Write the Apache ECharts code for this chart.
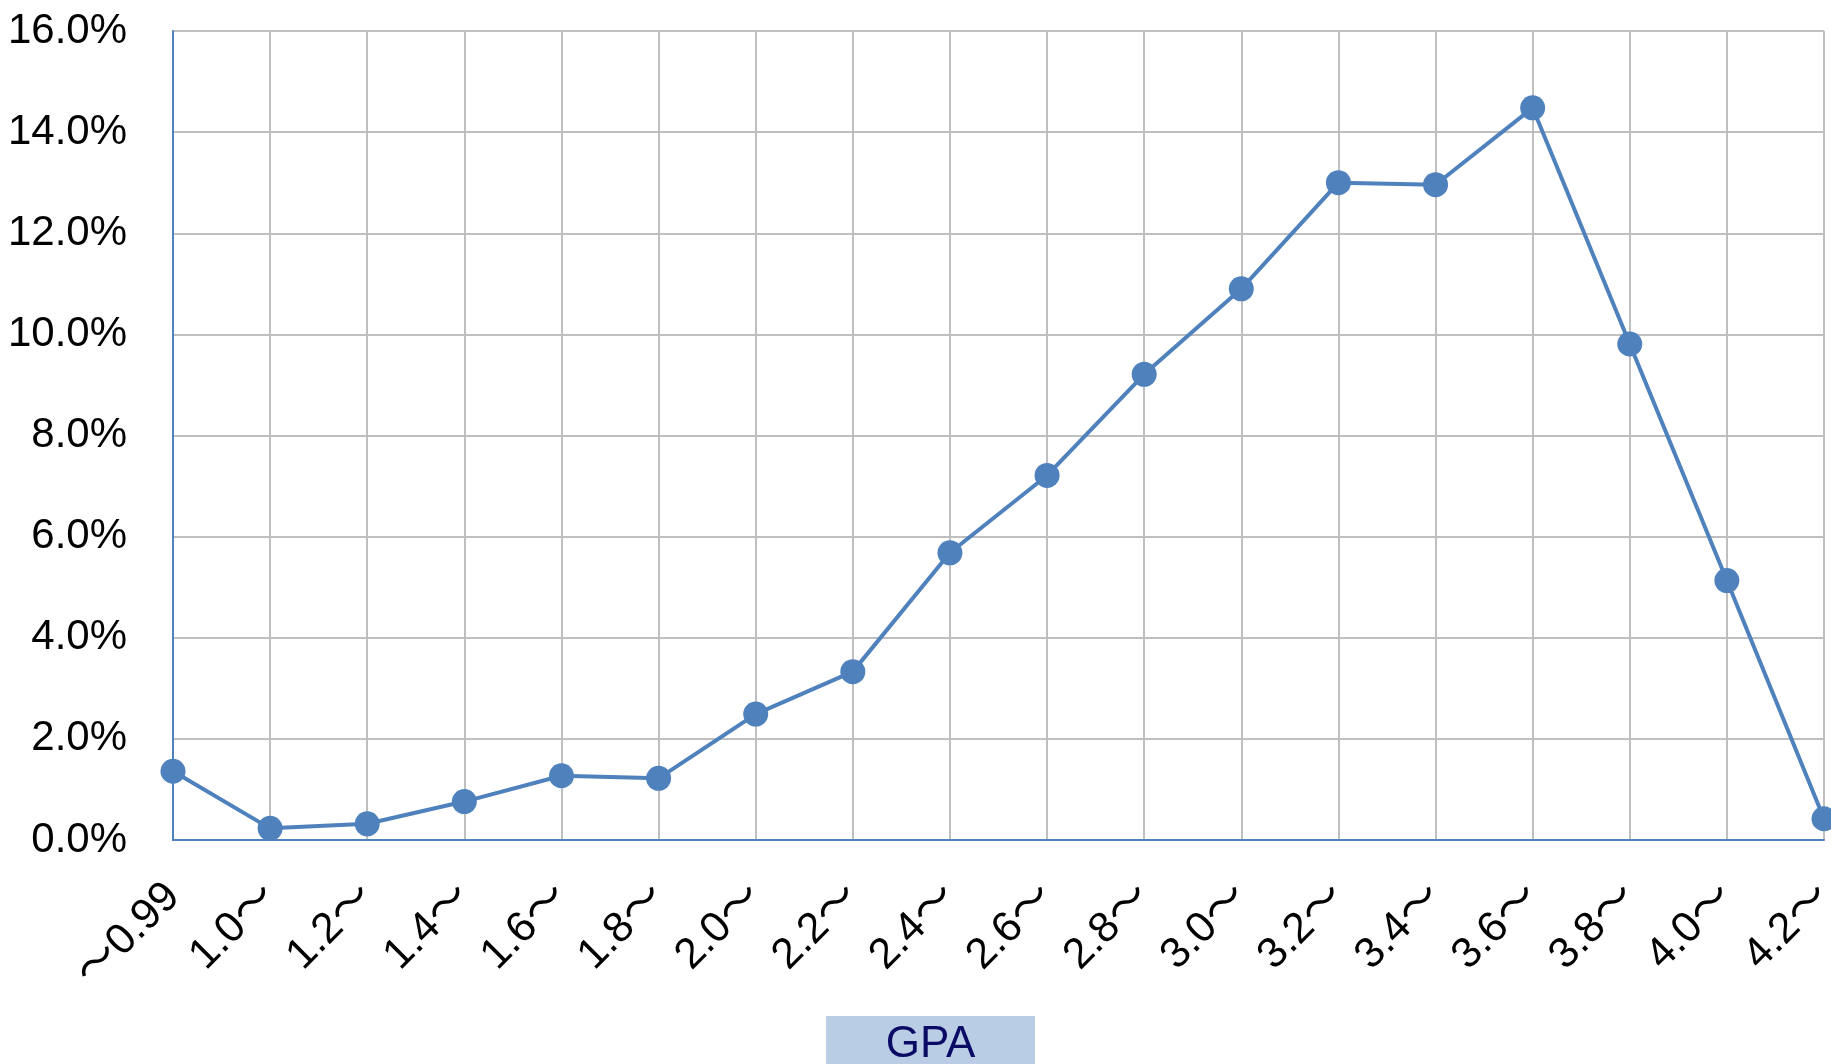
<!DOCTYPE html>
<html>
<head>
<meta charset="utf-8">
<script src="https://cdn.jsdelivr.net/npm/echarts@6/dist/echarts.min.js"></script>
<style>html,body{margin:0;padding:0;background:#fff}#c{width:1831px;height:1064px}</style>
</head>
<body>
<div id="c"></div>
<script>
var categories = ['〜0.99','1.0〜','1.2〜','1.4〜','1.6〜','1.8〜','2.0〜','2.2〜','2.4〜','2.6〜','2.8〜','3.0〜','3.2〜','3.4〜','3.6〜','3.8〜','4.0〜','4.2〜'];
var shares = [1.36, 0.23, 0.32, 0.76, 1.27, 1.22, 2.49, 3.33, 5.68, 7.21, 9.21, 10.90, 13.00, 12.96, 14.48, 9.81, 5.13, 0.42];
var yTicks = {min: 0, max: 16, interval: 2};
var axisTitle = 'GPA';

var font = '"Liberation Sans", "Noto Sans CJK JP", sans-serif';
var chart = echarts.init(document.getElementById('c'));
chart.setOption({
  animation: false,
  grid: {left: 173, right: 7, top: 31, bottom: 224, containLabel: false, outerBoundsMode: 'none'},
  xAxis: {
    type: 'category',
    data: categories,
    boundaryGap: false,
    axisLine: {lineStyle: {color: '#4F81BD', width: 2}},
    axisTick: {show: false},
    axisLabel: {rotate: 45, margin: 50, fontSize: 43, color: '#000', fontFamily: font, interval: 0},
    splitLine: {show: true, lineStyle: {color: '#BFBFBF', width: 2}}
  },
  yAxis: {
    type: 'value',
    min: yTicks.min, max: yTicks.max, interval: yTicks.interval,
    axisLine: {show: true, lineStyle: {color: '#4F81BD', width: 2}},
    axisTick: {show: false},
    axisLabel: {margin: 46, fontSize: 42, color: '#000', fontFamily: font,
      formatter: function (v) { return v.toFixed(1) + '%'; }},
    splitLine: {show: true, lineStyle: {color: '#BFBFBF', width: 2}}
  },
  series: [{
    type: 'line',
    data: shares,
    symbol: 'circle',
    symbolSize: 25,
    itemStyle: {color: '#4F81BD'},
    lineStyle: {color: '#4F81BD', width: 4},
    clip: false
  }],
  graphic: [{
    type: 'group',
    left: 826, top: 1016,
    children: [
      {type: 'rect', shape: {x: 0, y: 0, width: 209, height: 60}, style: {fill: '#B9CDE5'}},
      {type: 'text', x: 104.5, y: 29, style: {text: axisTitle, fontSize: 44, fontFamily: font, fill: '#0B0B66', align: 'center', verticalAlign: 'middle'}}
    ]
  }]
});
</script>
</body>
</html>
